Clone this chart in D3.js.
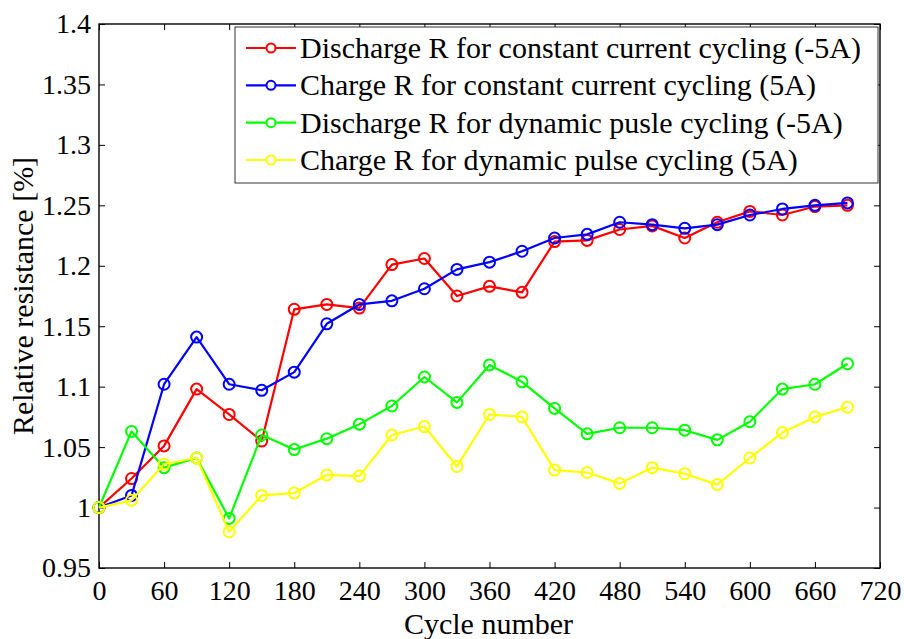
<!DOCTYPE html>
<html>
<head>
<meta charset="utf-8">
<script src="https://cdn.jsdelivr.net/npm/d3@7"></script>
<style>
  html, body { margin: 0; padding: 0; background: #fff; }
  svg { display: block; }
</style>
</head>
<body>
<svg id="chart" width="904" height="639"></svg>
<script>
// Cycle numbers at which resistance was measured
const cycles = [0, 30, 60, 90, 120, 150, 180, 210, 240, 270, 300, 330, 360, 390,
                420, 450, 480, 510, 540, 570, 600, 630, 660, 690];

// Relative resistance per test
const dischargeCC = [1.000, 1.024, 1.051, 1.098, 1.077, 1.055, 1.164, 1.168, 1.165, 1.201, 1.206, 1.175,
                     1.183, 1.178, 1.220, 1.221, 1.230, 1.233, 1.223, 1.236, 1.245, 1.242, 1.249, 1.250];
const chargeCC    = [1.000, 1.010, 1.102, 1.141, 1.102, 1.097, 1.112, 1.152, 1.168, 1.171, 1.181, 1.197,
                     1.203, 1.212, 1.223, 1.226, 1.236, 1.234, 1.231, 1.234, 1.242, 1.247, 1.250, 1.252];
const dischargeDP = [1.000, 1.063, 1.033, 1.041, 0.991, 1.060, 1.048, 1.057, 1.069, 1.084, 1.108, 1.087,
                     1.118, 1.104, 1.082, 1.061, 1.066, 1.066, 1.064, 1.056, 1.071, 1.098, 1.102, 1.119];
const chargeDP    = [1.000, 1.006, 1.036, 1.041, 0.980, 1.010, 1.012, 1.027, 1.026, 1.060, 1.067, 1.034,
                     1.077, 1.075, 1.031, 1.029, 1.020, 1.033, 1.028, 1.019, 1.041, 1.062, 1.075, 1.083];

const seriesNames = [
  "Discharge R for constant current cycling (-5A)",
  "Charge R for constant current cycling (5A)",
  "Discharge R for dynamic pusle cycling (-5A)",
  "Charge R for dynamic pulse cycling (5A)"
];
const seriesColors = ["#ff0000", "#0000ff", "#00ff00", "#ffff00"];
const seriesValues = [dischargeCC, chargeCC, dischargeDP, chargeDP];

const xTicks = [0, 60, 120, 180, 240, 300, 360, 420, 480, 540, 600, 660, 720];
const yTicks = [0.95, 1, 1.05, 1.1, 1.15, 1.2, 1.25, 1.3, 1.35, 1.4];

const FONT = "'Liberation Serif', 'Times New Roman', serif";
const svg = d3.select("#chart").style("font-family", FONT);
const plot = { left: 99, right: 880, top: 24, bottom: 568 };

const x = d3.scaleLinear().domain([0, 720]).range([plot.left, plot.right]);
const y = d3.scaleLinear().domain([0.95, 1.4]).range([plot.bottom, plot.top]);

const tickFmt = d => String(+d.toFixed(2));

// Axes: ticks point inward on all four sides of the box
const axisG = svg.append("g");
axisG.append("g")
  .attr("transform", `translate(0,${plot.bottom})`)
  .call(d3.axisBottom(x).tickValues(xTicks).tickSizeInner(-6).tickSizeOuter(0).tickPadding(12).tickFormat(tickFmt));
axisG.append("g")
  .attr("transform", `translate(0,${plot.top})`)
  .call(d3.axisTop(x).tickValues(xTicks).tickSizeInner(-6).tickSizeOuter(0).tickFormat(""));
axisG.append("g")
  .attr("transform", `translate(${plot.left},0)`)
  .call(d3.axisLeft(y).tickValues(yTicks).tickSizeInner(-6).tickSizeOuter(0).tickPadding(8).tickFormat(tickFmt));
axisG.append("g")
  .attr("transform", `translate(${plot.right},0)`)
  .call(d3.axisRight(y).tickValues(yTicks).tickSizeInner(-6).tickSizeOuter(0).tickFormat(""));

axisG.selectAll("g").attr("font-family", null).style("font-family", FONT);
axisG.selectAll(".domain").remove();
axisG.selectAll(".tick line").attr("stroke", "#000").attr("stroke-width", 1);
axisG.selectAll(".tick text")
  .style("font-family", FONT).style("font-size", "28px").attr("fill", "#000");

// Box frame
svg.append("rect")
  .attr("x", plot.left).attr("y", plot.top)
  .attr("width", plot.right - plot.left).attr("height", plot.bottom - plot.top)
  .attr("fill", "none").attr("stroke", "#000").attr("stroke-width", 1.4);

// Axis titles
svg.append("text")
  .attr("x", (plot.left + plot.right) / 2 - 1).attr("y", 634)
  .attr("text-anchor", "middle")
  .style("font-family", FONT).style("font-size", "30px")
  .text("Cycle number");
svg.append("text")
  .attr("transform", `translate(33,${296}) rotate(-90)`)
  .attr("text-anchor", "middle")
  .style("font-family", FONT).style("font-size", "30px")
  .text("Relative resistance [%]");

// Series lines with open circle markers
const line = d3.line().x((d, i) => x(cycles[i])).y(d => y(d));
seriesValues.forEach((vals, k) => {
  const g = svg.append("g");
  g.append("path")
    .datum(vals)
    .attr("d", line)
    .attr("fill", "none")
    .attr("stroke", seriesColors[k])
    .attr("stroke-width", 2.2)
    .attr("stroke-linejoin", "round");
  g.selectAll("circle")
    .data(vals)
    .join("circle")
    .attr("cx", (d, i) => x(cycles[i]))
    .attr("cy", d => y(d))
    .attr("r", 5.5)
    .attr("fill", "none")
    .attr("stroke", seriesColors[k])
    .attr("stroke-width", 2);
});

// Legend
const legend = { x0: 235, y0: 27, x1: 878, y1: 183 };
svg.append("rect")
  .attr("x", legend.x0).attr("y", legend.y0)
  .attr("width", legend.x1 - legend.x0).attr("height", legend.y1 - legend.y0)
  .attr("fill", "#fff").attr("stroke", "#333").attr("stroke-width", 1);

const rowY = d3.scalePoint().domain(d3.range(seriesNames.length)).range([48, 160]);
seriesNames.forEach((name, k) => {
  const cy = rowY(k);
  svg.append("line")
    .attr("x1", 246).attr("x2", 296).attr("y1", cy).attr("y2", cy)
    .attr("stroke", seriesColors[k]).attr("stroke-width", 2.2);
  svg.append("circle")
    .attr("cx", 271).attr("cy", cy).attr("r", 4.5)
    .attr("fill", "#fff").attr("stroke", seriesColors[k]).attr("stroke-width", 2);
  svg.append("text")
    .attr("x", 300).attr("y", cy + 10)
    .style("font-family", FONT).style("font-size", "30px")
    .text(name);
});
</script>
</body>
</html>
